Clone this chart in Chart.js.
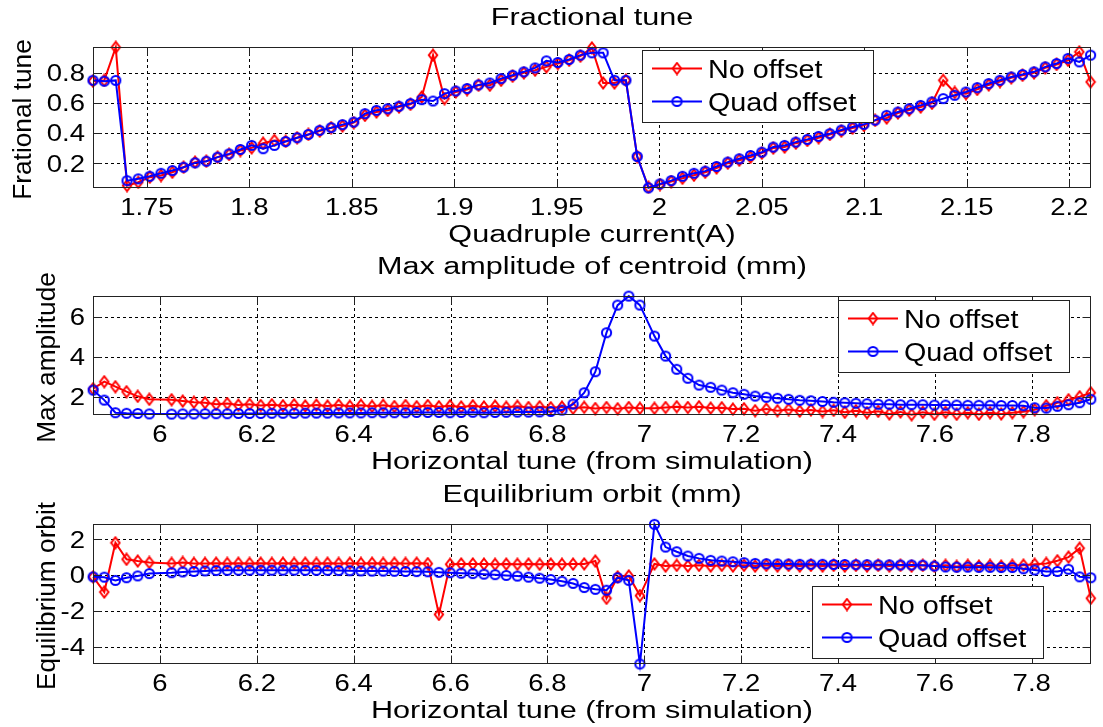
<!DOCTYPE html>
<html>
<head>
<meta charset="utf-8">
<script src="https://cdn.jsdelivr.net/npm/chart.js@4.4.1/dist/chart.umd.min.js"></script>
<style>
html,body{margin:0;padding:0;background:#fff;}
#wrap{position:relative;width:1103px;height:727px;overflow:hidden;background:#fff;}
canvas{position:absolute;left:0;}
</style>
</head>
<body>
<div id="wrap">
<canvas id="c1" width="1103" height="250" style="top:0px"></canvas>
<canvas id="c2" width="1103" height="228" style="top:250px"></canvas>
<canvas id="c3" width="1103" height="249" style="top:478px"></canvas>
</div>
<script>
// ---------------- DATA ----------------
const seriesNames = ['No offset', 'Quad offset'];

// Panel 1: fractional tune vs quadrupole current
const quadCurrent = [1.7237,1.7292,1.7348,1.7403,1.7458,1.7514,1.7569,1.7624,1.7679,1.7735,
1.7790,1.7845,1.7901,1.7956,1.8011,1.8067,1.8122,1.8177,1.8233,1.8288,
1.8343,1.8399,1.8454,1.8509,1.8564,1.8620,1.8675,1.8730,1.8786,1.8841,
1.8896,1.8952,1.9007,1.9062,1.9118,1.9173,1.9228,1.9284,1.9339,1.9394,
1.9449,1.9505,1.9560,1.9615,1.9671,1.9726,1.9781,1.9837,1.9892,1.9947,
2.0003,2.0058,2.0113,2.0169,2.0224,2.0279,2.0334,2.0390,2.0445,2.0500,
2.0556,2.0611,2.0666,2.0722,2.0777,2.0832,2.0888,2.0943,2.0998,2.1053,
2.1109,2.1164,2.1219,2.1275,2.1330,2.1385,2.1441,2.1496,2.1551,2.1607,
2.1662,2.1717,2.1772,2.1828,2.1883,2.1938,2.1994,2.2049,2.2104];
const tuneNoOffset = [0.745,0.75,0.97,0.051,0.073,0.107,0.118,0.14,0.173,0.207,
0.213,0.24,0.258,0.284,0.302,0.333,0.351,0.345,0.369,0.391,
0.413,0.436,0.447,0.469,0.518,0.54,0.551,0.573,0.591,0.64,
0.918,0.629,0.673,0.689,0.718,0.718,0.751,0.778,0.8,0.818,
0.84,0.862,0.884,0.911,0.966,0.733,0.733,0.751,0.244,0.04,
0.058,0.078,0.1,0.12,0.14,0.168,0.2,0.22,0.24,0.267,
0.3,0.307,0.333,0.351,0.369,0.391,0.413,0.433,0.451,0.484,
0.5,0.533,0.553,0.573,0.598,0.751,0.67,0.662,0.69,0.72,
0.742,0.767,0.784,0.8,0.833,0.856,0.884,0.94,0.74];
const tuneQuadOffset = [0.751,0.745,0.75,0.084,0.096,0.113,0.133,0.151,0.173,0.202,
0.213,0.24,0.262,0.291,0.318,0.296,0.318,0.344,0.369,0.391,
0.418,0.436,0.456,0.473,0.529,0.551,0.562,0.578,0.596,0.622,
0.613,0.662,0.68,0.696,0.72,0.733,0.762,0.784,0.807,0.833,
0.88,0.869,0.889,0.918,0.933,0.933,0.751,0.751,0.244,0.036,
0.062,0.084,0.113,0.133,0.147,0.178,0.207,0.229,0.251,0.273,
0.307,0.318,0.34,0.358,0.378,0.396,0.42,0.44,0.458,0.486,
0.518,0.54,0.562,0.584,0.607,0.629,0.651,0.673,0.702,0.729,
0.751,0.773,0.789,0.807,0.84,0.862,0.896,0.873,0.918];

// Panels 2 and 3: vs horizontal tune (from simulation)
const horizTune = [5.862,5.885,5.908,5.931,5.954,5.978,
6.024,6.047,6.070,6.093,6.116,6.139,6.162,6.185,6.208,6.231,6.254,6.277,6.300,
6.323,6.346,6.369,6.392,6.415,6.438,6.461,6.484,6.507,6.530,6.553,6.576,6.599,
6.622,6.646,6.669,6.692,6.715,6.738,6.761,6.784,6.807,6.830,6.853,6.876,6.899,
6.922,6.945,6.968,6.991,
7.021,7.044,7.067,7.090,7.113,7.137,7.160,7.183,7.206,7.229,
7.252,7.275,7.298,7.321,7.344,7.368,7.391,7.414,7.437,7.460,
7.483,7.506,7.529,7.552,7.575,7.599,7.622,7.645,7.668,7.691,
7.714,7.737,7.760,7.783,7.806,7.830,7.853,7.876,7.899,7.922];
const ampNoOffset = [2.4,2.75,2.5,2.25,2.02,1.87,1.85,1.78,1.72,1.7,
1.62,1.66,1.58,1.62,1.56,1.6,1.55,1.6,1.54,1.58,
1.53,1.58,1.52,1.57,1.52,1.57,1.51,1.56,1.5,1.56,
1.5,1.55,1.49,1.55,1.49,1.53,1.47,1.52,1.46,1.5,
1.45,1.48,1.42,1.47,1.41,1.46,1.4,1.46,1.42,1.42,
1.46,1.5,1.46,1.5,1.43,1.45,1.38,1.4,1.3,1.38,
1.3,1.36,1.28,1.34,1.26,1.32,1.22,1.3,1.2,1.27,
1.14,1.24,1.1,1.22,1.12,1.22,1.12,1.2,1.12,1.2,
1.14,1.2,1.25,1.35,1.55,1.7,1.85,2.0,2.2];
const ampQuadOffset = [2.33,1.83,1.2,1.17,1.16,1.14,1.13,1.14,1.14,1.15,
1.15,1.15,1.16,1.16,1.16,1.17,1.17,1.17,1.18,1.18,
1.18,1.19,1.19,1.19,1.2,1.2,1.2,1.2,1.21,1.21,
1.21,1.2,1.21,1.22,1.2,1.21,1.22,1.23,1.23,1.24,
1.26,1.33,1.63,2.2,3.25,5.2,6.58,7.03,6.58,5.03,
4.03,3.37,2.92,2.58,2.47,2.33,2.2,2.12,2.03,1.97,
1.92,1.87,1.82,1.8,1.76,1.72,1.7,1.67,1.65,1.62,
1.62,1.6,1.6,1.6,1.58,1.58,1.58,1.57,1.57,1.57,
1.56,1.56,1.55,1.45,1.43,1.52,1.6,1.7,1.87];
const orbitNoOffset = [-0.1,-0.95,1.8,0.88,0.78,0.7,0.65,0.7,0.65,0.65,
0.66,0.65,0.66,0.65,0.66,0.65,0.66,0.65,0.66,0.65,
0.66,0.65,0.66,0.65,0.66,0.65,0.66,0.65,0.66,0.64,
-2.2,0.6,0.62,0.62,0.61,0.6,0.61,0.6,0.61,0.6,
0.61,0.6,0.61,0.62,0.78,-1.3,-0.1,-0.05,-1.15,0.62,
0.5,0.54,0.5,0.54,0.5,0.54,0.5,0.54,0.5,0.54,
0.5,0.54,0.5,0.54,0.5,0.54,0.5,0.54,0.5,0.54,
0.5,0.54,0.5,0.54,0.5,0.54,0.48,0.54,0.5,0.54,
0.5,0.54,0.55,0.6,0.65,0.8,1.0,1.5,-1.3];
const orbitQuadOffset = [-0.1,-0.12,-0.3,-0.15,-0.05,0.08,0.13,0.17,0.2,0.23,
0.25,0.26,0.27,0.27,0.27,0.27,0.27,0.27,0.26,0.26,
0.26,0.25,0.24,0.23,0.22,0.22,0.21,0.2,0.19,0.18,
0.15,0.13,0.1,0.08,0.05,0.02,-0.02,-0.06,-0.12,-0.18,
-0.25,-0.35,-0.47,-0.7,-0.8,-0.85,-0.15,-0.3,-4.97,2.83,
1.56,1.3,1.06,0.93,0.82,0.78,0.74,0.69,0.65,0.63,
0.62,0.61,0.6,0.6,0.6,0.59,0.59,0.58,0.58,0.57,
0.57,0.56,0.56,0.55,0.5,0.45,0.44,0.44,0.43,0.43,
0.42,0.42,0.35,0.28,0.2,0.2,0.32,-0.1,-0.15];

// Tick values and labels
const xTicksCurrent = [1.75,1.8,1.85,1.9,1.95,2,2.05,2.1,2.15,2.2];
const xTickLabelsCurrent = ['1.75','1.8','1.85','1.9','1.95','2','2.05','2.1','2.15','2.2'];
const xTicksTune = [6,6.2,6.4,6.6,6.8,7,7.2,7.4,7.6,7.8];
const xTickLabelsTune = ['6','6.2','6.4','6.6','6.8','7','7.2','7.4','7.6','7.8'];
const yTicksTune = [0.2,0.4,0.6,0.8];
const yTickLabelsTune = ['0.2','0.4','0.6','0.8'];
const yTicksAmp = [2,4,6];
const yTickLabelsAmp = ['2','4','6'];
const yTicksOrbit = [-4,-2,0,2];
const yTickLabelsOrbit = ['-4','-2','0','2'];

// ---------------- STYLE / DRAWING ----------------
const RED = '#ff0000', BLUE = '#0000ff';
const FONT = '"Liberation Sans", Arial, Helvetica, sans-serif';

function makeDiamond(color) {
  const c = document.createElement('canvas'); c.width = 12; c.height = 14;
  const g = c.getContext('2d'); g.strokeStyle = color; g.lineWidth = 2;
  g.beginPath(); g.moveTo(6, 1.5); g.lineTo(10.2, 7); g.lineTo(6, 12.5); g.lineTo(1.8, 7); g.closePath(); g.stroke();
  return c;
}
function makeCircle(color) {
  const c = document.createElement('canvas'); c.width = 13; c.height = 13;
  const g = c.getContext('2d'); g.strokeStyle = color; g.lineWidth = 2;
  g.beginPath(); g.arc(6.5, 6.5, 4.6, 0, Math.PI * 2); g.stroke();
  return c;
}
const diamondRed = makeDiamond(RED);
const circleBlue = makeCircle(BLUE);

function sText(ctx, str, x, y, size, sx, align, baseline, rot) {
  ctx.save();
  ctx.translate(x, y);
  if (rot) ctx.rotate(rot);
  ctx.scale(sx, 1);
  ctx.font = size + 'px ' + FONT;
  ctx.textAlign = align;
  ctx.textBaseline = baseline;
  ctx.fillStyle = '#000';
  ctx.fillText(str, 0, 0);
  ctx.restore();
}

function makeDecor(cfg) {
  return {
    id: 'decor' + cfg.id,
    beforeDatasetsDraw(chart) {
      const ctx = chart.ctx, a = chart.chartArea, xs = chart.scales.x, ys = chart.scales.y;
      ctx.save();
      ctx.strokeStyle = '#000'; ctx.lineWidth = 1; ctx.setLineDash([3, 3]);
      ctx.beginPath();
      cfg.xTicks.forEach(v => { const p = Math.round(xs.getPixelForValue(v)) + 0.5; ctx.moveTo(p, a.top); ctx.lineTo(p, a.bottom); });
      cfg.yTicks.forEach(v => { const p = Math.round(ys.getPixelForValue(v)) + 0.5; ctx.moveTo(a.left, p); ctx.lineTo(a.right, p); });
      ctx.stroke();
      ctx.restore();
    },
    afterDraw(chart) {
      const ctx = chart.ctx, a = chart.chartArea, xs = chart.scales.x, ys = chart.scales.y;
      ctx.save();
      ctx.strokeStyle = '#222'; ctx.lineWidth = 1; ctx.setLineDash([]);
      const L = Math.round(a.left) + 0.5, R = Math.round(a.right) - 0.5, T = Math.round(a.top) + 0.5, B = Math.round(a.bottom) - 0.5;
      ctx.strokeRect(L, T, R - L, B - T);
      ctx.beginPath();
      const tl = 8;
      cfg.xTicks.forEach(v => { const p = Math.round(xs.getPixelForValue(v)) + 0.5; ctx.moveTo(p, B); ctx.lineTo(p, B - tl); ctx.moveTo(p, T); ctx.lineTo(p, T + tl); });
      cfg.yTicks.forEach(v => { const p = Math.round(ys.getPixelForValue(v)) + 0.5; ctx.moveTo(L, p); ctx.lineTo(L + tl, p); ctx.moveTo(R, p); ctx.lineTo(R - tl, p); });
      ctx.stroke();
      ctx.restore();
      cfg.xTicks.forEach((v, i) => sText(ctx, cfg.xLabels[i], xs.getPixelForValue(v), a.bottom + 26.5, 23.5, 1.17, 'center', 'alphabetic'));
      cfg.yTicks.forEach((v, i) => sText(ctx, cfg.yLabels[i], a.left - 8, ys.getPixelForValue(v) + 8.4, 23.5, 1.17, 'right', 'alphabetic'));
      const cx = (a.left + a.right) / 2, cy = (a.top + a.bottom) / 2;
      sText(ctx, cfg.title, cx, a.top - 22.3, 23, 1.33, 'center', 'alphabetic');
      sText(ctx, cfg.xTitle, cx, a.bottom + 54, 23, 1.33, 'center', 'alphabetic');
      sText(ctx, cfg.yTitle, cfg.yTitleX, cy + 2, 25, 1.05, 'center', 'alphabetic', -Math.PI / 2);
      const lg = cfg.legend;
      ctx.save();
      ctx.fillStyle = '#fff'; ctx.strokeStyle = '#222'; ctx.lineWidth = 1;
      ctx.fillRect(lg.x, lg.y, 231, 72);
      ctx.strokeRect(lg.x + 0.5, lg.y + 0.5, 231, 72);
      const styles = [[RED, diamondRed], [BLUE, circleBlue]];
      styles.forEach((s, r) => {
        const ry = lg.y + 18.5 + r * 33;
        ctx.strokeStyle = s[0]; ctx.lineWidth = 2;
        ctx.beginPath(); ctx.moveTo(lg.x + 10, ry); ctx.lineTo(lg.x + 60, ry); ctx.stroke();
        ctx.drawImage(s[1], lg.x + 35 - s[1].width / 2, ry - s[1].height / 2);
        sText(ctx, seriesNames[r], lg.x + 66, ry + 9, 25, 1.15, 'left', 'alphabetic');
      });
      ctx.restore();
    }
  };
}

function makeChart(cfg) {
  const ds = (ys, color, style, order, label) => ({
    label: label,
    data: cfg.x.map((v, i) => ({ x: v, y: ys[i] })),
    borderColor: color, backgroundColor: color, borderWidth: 2,
    pointStyle: style, pointRadius: 4, pointHoverRadius: 4,
    tension: 0, fill: false, clip: false, order: order
  });
  return new Chart(document.getElementById(cfg.id), {
    type: 'line',
    data: { datasets: [
      ds(cfg.y0, RED, diamondRed, 1, seriesNames[0]),
      ds(cfg.y1, BLUE, circleBlue, 0, seriesNames[1])
    ] },
    options: {
      responsive: false, animation: false, devicePixelRatio: 1, events: [],
      layout: { padding: { left: 0, right: 12, top: cfg.padTop, bottom: 0 } },
      plugins: { legend: { display: false }, tooltip: { enabled: false }, title: { display: false } },
      scales: {
        x: {
          type: 'linear', min: cfg.xmin, max: cfg.xmax,
          grid: { display: false }, border: { display: false }, ticks: { display: false },
          afterBuildTicks: s => { s.ticks = cfg.xTicks.map(v => ({ value: v })); },
          afterFit: s => { s.height = cfg.xH; }
        },
        y: {
          type: 'linear', min: cfg.ymin, max: cfg.ymax,
          grid: { display: false }, border: { display: false }, ticks: { display: false },
          afterBuildTicks: s => { s.ticks = cfg.yTicks.map(v => ({ value: v })); },
          afterFit: s => { s.width = 93; }
        }
      }
    },
    plugins: [makeDecor(cfg)]
  });
}

makeChart({
  id: 'c1', x: quadCurrent, y0: tuneNoOffset, y1: tuneQuadOffset,
  xmin: 1.7237, xmax: 2.2106, ymin: 0.035, ymax: 0.972,
  xTicks: xTicksCurrent, xLabels: xTickLabelsCurrent, yTicks: yTicksTune, yLabels: yTickLabelsTune,
  padTop: 47, xH: 62,
  title: 'Fractional tune', xTitle: 'Quadruple current(A)', yTitle: 'Frational tune', yTitleX: 31,
  legend: { x: 642, y: 50 }
});
makeChart({
  id: 'c2', x: horizTune, y0: ampNoOffset, y1: ampQuadOffset,
  xmin: 5.8617, xmax: 7.9224, ymin: 1.085, ymax: 7.035,
  xTicks: xTicksTune, xLabels: xTickLabelsTune, yTicks: yTicksAmp, yLabels: yTickLabelsAmp,
  padTop: 46, xH: 63,
  title: 'Max amplitude of centroid (mm)', xTitle: 'Horizontal tune (from simulation)', yTitle: 'Max amplitude', yTitleX: 55,
  legend: { x: 838, y: 50 }
});
makeChart({
  id: 'c3', x: horizTune, y0: orbitNoOffset, y1: orbitQuadOffset,
  xmin: 5.8617, xmax: 7.9224, ymin: -4.97, ymax: 2.85,
  xTicks: xTicksTune, xLabels: xTickLabelsTune, yTicks: yTicksOrbit, yLabels: yTickLabelsOrbit,
  padTop: 46, xH: 63,
  title: 'Equilibrium orbit (mm)', xTitle: 'Horizontal tune (from simulation)', yTitle: 'Equilibrium orbit', yTitleX: 55,
  legend: { x: 812, y: 108 }
});
</script>
</body>
</html>
